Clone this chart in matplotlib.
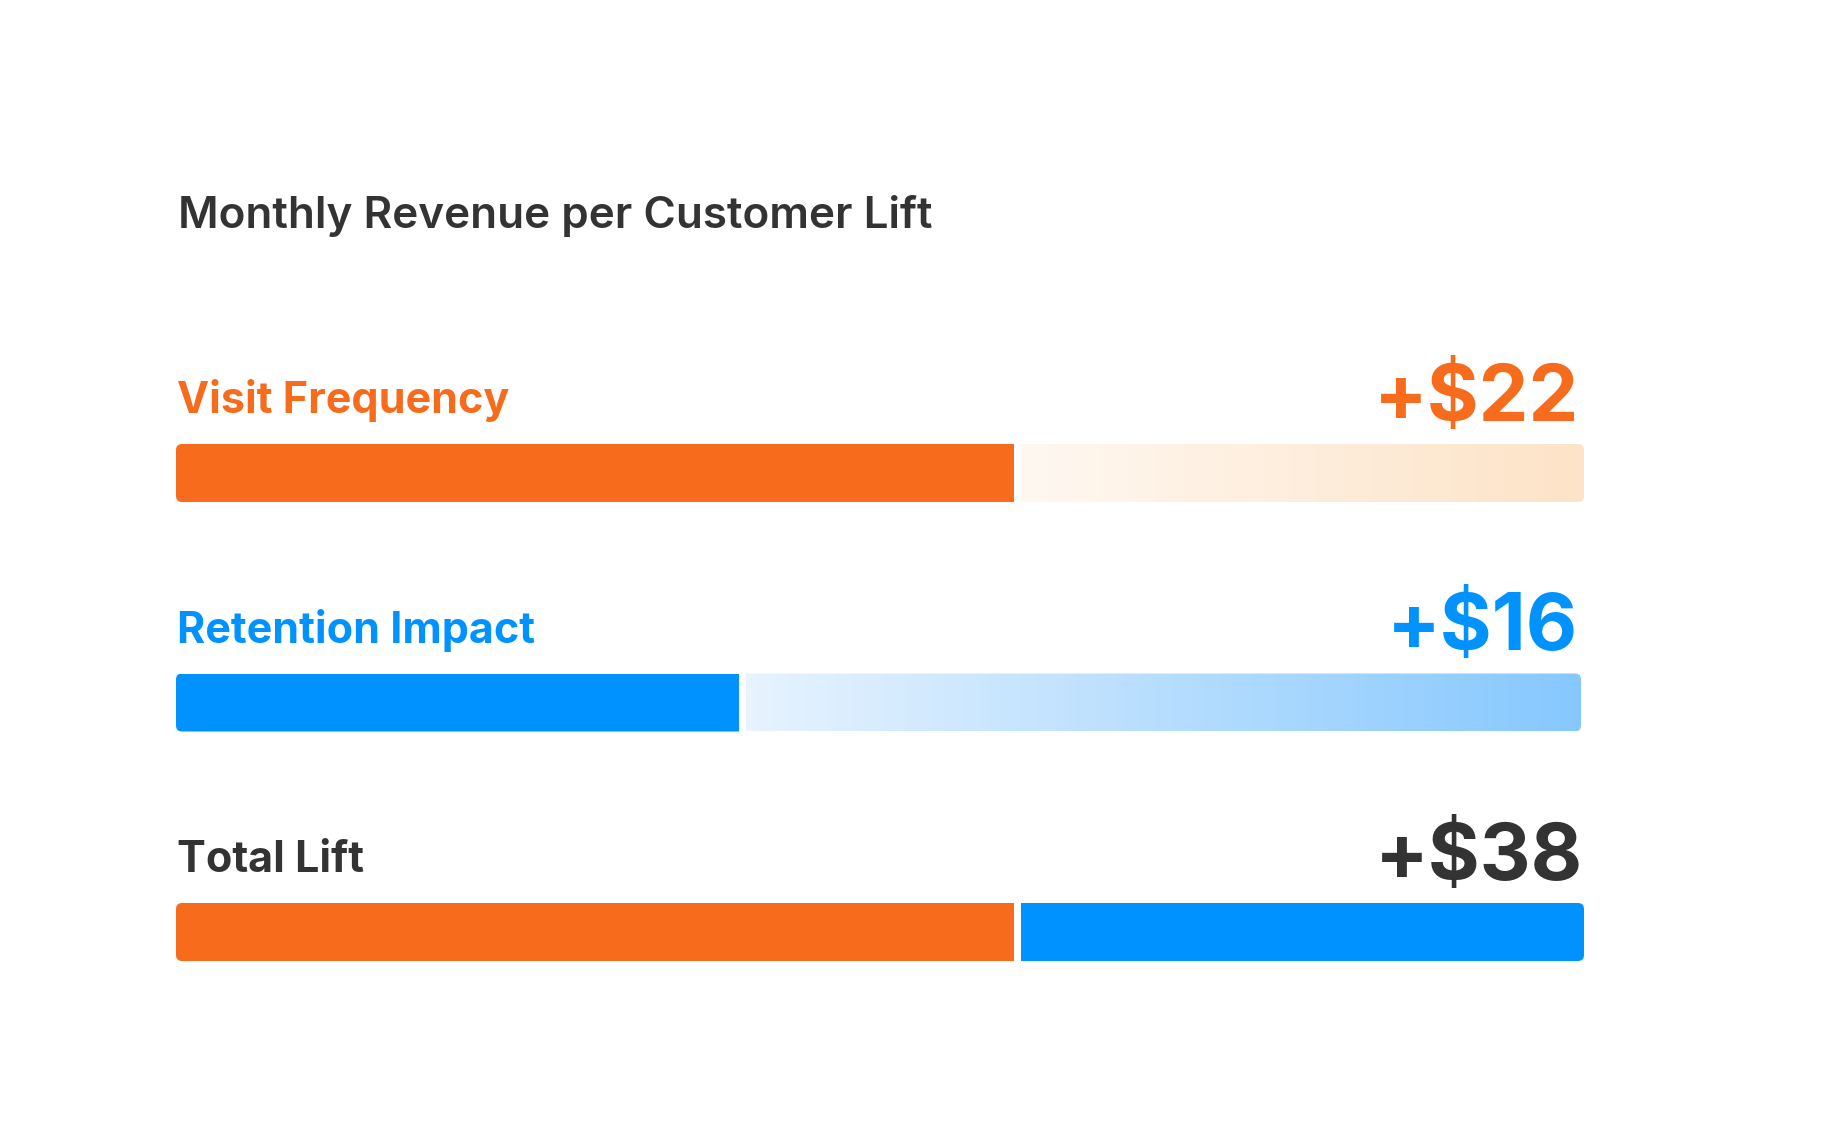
import numpy as np
import matplotlib.pyplot as plt
from matplotlib.patches import FancyBboxPatch, Rectangle
from matplotlib.colors import LinearSegmentedColormap

# Daten
titel = 'Monthly Revenue per Customer Lift'
labels = ['Visit Frequency', 'Retention Impact', 'Total Lift']
values = [22, 16, 38]
fill_share = [59.5, 40]      # Anteil des vollen Balkens (in %)
total_share = [59.5, 40.5]   # Aufteilung Orange / Blau im Gesamtbalken (in %)

# Farben
orange = '#F76C1C'
blue = '#0093FF'
dark = '#333333'
light_orange = LinearSegmentedColormap.from_list('lo', ['#FFF8F1', '#FDE3C7'])
light_blue = LinearSegmentedColormap.from_list('lb', ['#E7F3FE', '#86C8FE'])

plt.rcParams['font.family'] = ['Inter', 'DejaVu Sans']

W, H = 1832, 1136
fig = plt.figure(figsize=(W / 100, H / 100), dpi=100)
ax = fig.add_axes([0, 0, 1, 1])

# Layout in Pixeln
left = 176
rights = [1584, 1581, 1584]
value_x = [1579, 1578, 1583]
gap = 7
first_top = 444
row_step = 229.5
bar_h = 58


def track(top, right):
    box = FancyBboxPatch((left, top), right - left, bar_h,
                         boxstyle='round,pad=0,rounding_size=6',
                         facecolor='none', edgecolor='none')
    ax.add_patch(box)
    return box


def solid(x0, x1, top, color, clip):
    r = Rectangle((x0, top), x1 - x0, bar_h, facecolor=color, edgecolor='none')
    ax.add_patch(r)
    r.set_clip_path(clip)


def gradient(x0, x1, top, cmap, clip):
    img = ax.imshow(np.linspace(0, 1, 256).reshape(1, -1), cmap=cmap,
                    extent=[x0, x1, top + bar_h, top], aspect='auto',
                    interpolation='bilinear')
    img.set_clip_path(clip)


ax.text(178, 228, titel, fontsize=31.7, fontweight='semibold', color=dark,
        va='baseline', ha='left')

row_colors = [orange, blue, dark]
for i, (lab, val) in enumerate(zip(labels, values)):
    top = first_top + i * row_step
    right = rights[i]
    ax.text(177, top - 31, lab, fontsize=31, fontweight='bold',
            color=row_colors[i], va='baseline', ha='left')
    ax.text(value_x[i], top - 23, f'+${val}', fontsize=57, fontweight='bold',
            color=row_colors[i], va='baseline', ha='right')

    clip = track(top, right)
    track_w = rights[0] - left
    if i < 2:
        split = left + track_w * fill_share[i] / 100
        solid(left, split, top, row_colors[i], clip)
        gradient(split + gap, right, top, [light_orange, light_blue][i], clip)
    else:
        split = left + track_w * total_share[0] / 100
        solid(left, split, top, orange, clip)
        solid(split + gap, right, top, blue, clip)

ax.set_xlim(0, W)
ax.set_ylim(H, 0)
ax.axis('off')

plt.savefig('out.png', dpi=100, facecolor='white')
